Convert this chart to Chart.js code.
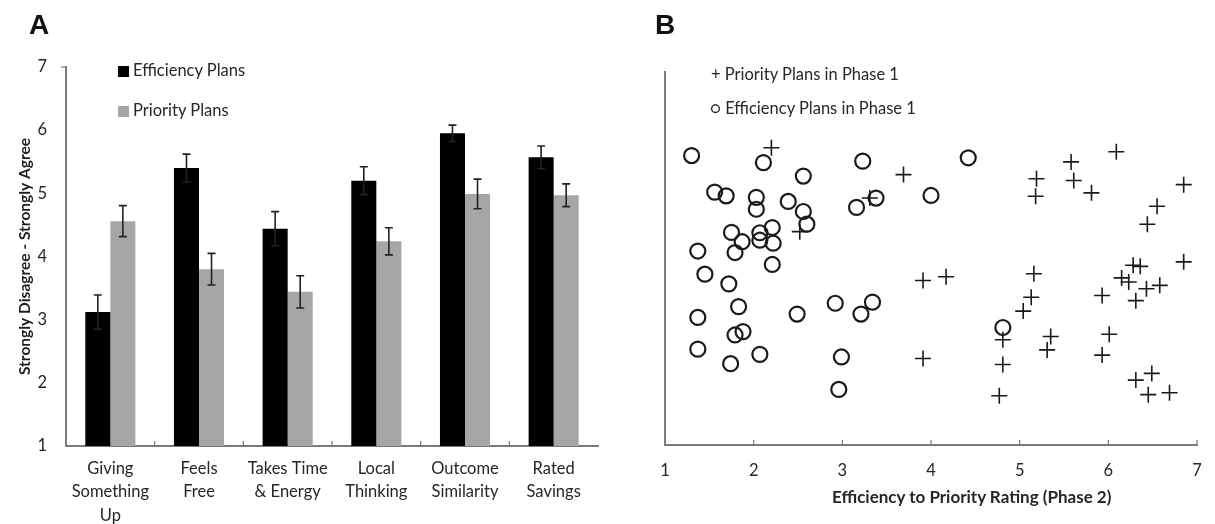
<!DOCTYPE html>
<html><head><meta charset="utf-8">
<script src="https://cdn.jsdelivr.net/npm/chart.js@4.4.1/dist/chart.umd.min.js"></script>
<style>
body{margin:0;background:#fff;width:1215px;height:524px;position:relative;overflow:hidden;font-family:Lato,"Open Sans",sans-serif;color:#262626}
canvas{position:absolute;top:0}
.t{position:absolute;white-space:nowrap}
</style></head><body>
<canvas id="ca" width="615" height="524" style="left:0"></canvas>
<canvas id="cb" width="600" height="524" style="left:615px"></canvas>
<div class="t" style="left:29px;top:9px;font:bold 28px 'Liberation Sans',Arial,sans-serif;color:#111">A</div>
<div class="t" style="left:655px;top:9px;font:bold 28px 'Liberation Sans',Arial,sans-serif;color:#111">B</div>
<div class="t" style="left:118px;top:60px;font-size:16.5px;line-height:20px"><span style="display:inline-block;width:11px;height:11px;background:#000;vertical-align:-1px;margin-right:4px"></span>Efficiency Plans</div>
<div class="t" style="left:118px;top:100px;font-size:16.5px;line-height:20px"><span style="display:inline-block;width:11px;height:11px;background:#a6a6a6;vertical-align:-1px;margin-right:4px"></span>Priority Plans</div>
<div class="t" style="left:711px;top:64px;font-size:16.5px;line-height:20px">+ Priority Plans in Phase 1</div>
<div class="t" style="left:710px;top:98px;font-size:16.5px;line-height:20px">○ Efficiency Plans in Phase 1</div>
<div class="t" style="left:832px;top:487px;font-weight:bold;font-size:17px;line-height:20px">Efficiency to Priority Rating (Phase 2)</div>
<script>
// ---- Panel A data ----
const categories = [["Giving","Something","Up"],["Feels","Free"],["Takes Time","& Energy"],["Local","Thinking"],["Outcome","Similarity"],["Rated","Savings"]];
const efficiencyMeans = [3.12, 5.40, 4.44, 5.20, 5.95, 5.57];
const efficiencyErr   = [0.27, 0.22, 0.27, 0.22, 0.13, 0.18];
const priorityMeans   = [4.56, 3.80, 3.44, 4.24, 4.99, 4.97];
const priorityErr     = [0.245, 0.25, 0.255, 0.215, 0.235, 0.18];
const yTicksA = [1, 2, 3, 4, 5, 6, 7];
// ---- Panel B data ----
const xTicksB = [1, 2, 3, 4, 5, 6, 7];
const priorityX = [2.20,3.69,3.31,2.52,3.91,3.91,6.09,5.58,5.19,5.61,5.81,6.85,5.18,6.55,6.44,4.17,5.16,5.13,5.04,6.85,6.28,6.36,6.15,6.23,6.43,6.58,6.31,5.93,4.81,4.81,4.77,5.35,5.31,6.01,5.93,6.31,6.49,6.45,6.69];
const priorityY = [7.97,7.25,6.62,5.72,4.41,2.32,7.86,7.59,7.14,7.09,6.76,6.98,6.67,6.40,5.92,4.51,4.59,3.96,3.59,4.91,4.82,4.79,4.48,4.37,4.19,4.28,3.87,4.01,2.82,2.16,1.32,2.91,2.55,2.97,2.41,1.74,1.92,1.35,1.40];
const efficiencyX = [1.30,2.11,2.56,3.23,1.56,1.69,2.03,2.03,2.39,2.56,2.60,3.16,3.38,4.00,1.75,2.07,2.21,2.07,1.87,2.22,1.79,1.37,2.21,1.45,1.72,2.92,3.34,3.21,2.49,1.83,1.37,1.88,1.79,1.37,2.07,1.74,2.99,2.96,4.42,4.81];
const efficiencyY = [7.76,7.57,7.21,7.61,6.78,6.68,6.64,6.32,6.53,6.26,5.92,6.37,6.62,6.69,5.70,5.69,5.83,5.49,5.45,5.41,5.16,5.20,4.84,4.58,4.32,3.80,3.83,3.51,3.51,3.71,3.42,3.04,2.95,2.57,2.43,2.18,2.36,1.49,7.70,3.15];

const FONT = 'Lato';
const AXIS = '#7a7a7a';
const TXT = '#262626';

const errorBars = {
  id: 'errorBars',
  afterDatasetsDraw(chart) {
    const ctx = chart.ctx, y = chart.scales.y;
    const errs = [efficiencyErr, priorityErr];
    ctx.save();
    ctx.strokeStyle = '#222'; ctx.lineWidth = 1.6;
    chart.data.datasets.forEach((ds, di) => {
      chart.getDatasetMeta(di).data.forEach((el, i) => {
        const v = ds.data[i], e = errs[di][i];
        const yt = y.getPixelForValue(v + e), yb = y.getPixelForValue(v - e);
        ctx.beginPath();
        ctx.moveTo(el.x, yt); ctx.lineTo(el.x, yb);
        ctx.moveTo(el.x - 4, yt); ctx.lineTo(el.x + 4, yt);
        ctx.moveTo(el.x - 4, yb); ctx.lineTo(el.x + 4, yb);
        ctx.stroke();
      });
    });
    ctx.restore();
  }
};
const innerTicksA = {
  id: 'innerTicksA',
  afterDraw(chart) {
    const ctx = chart.ctx, x = chart.scales.x, b = chart.chartArea.bottom;
    ctx.save(); ctx.strokeStyle = AXIS; ctx.lineWidth = 1.2;
    for (let i = 1; i < categories.length; i++) {
      const px = x.getPixelForValue(i - 0.5);
      ctx.beginPath(); ctx.moveTo(px, b); ctx.lineTo(px, b - 5); ctx.stroke();
    }
    const py = chart.scales.y.getPixelForValue(yTicksA[yTicksA.length - 1]);
    ctx.beginPath(); ctx.moveTo(chart.chartArea.left, py); ctx.lineTo(chart.chartArea.left - 5, py); ctx.stroke();
    ctx.restore();
  }
};
const innerTicksB = {
  id: 'innerTicksB',
  afterDraw(chart) {
    const ctx = chart.ctx, x = chart.scales.x, b = chart.chartArea.bottom;
    ctx.save(); ctx.strokeStyle = AXIS; ctx.lineWidth = 1.2;
    xTicksB.slice(1).forEach(v => {
      const px = x.getPixelForValue(v);
      ctx.beginPath(); ctx.moveTo(px, b); ctx.lineTo(px, b - 5); ctx.stroke();
    });
    ctx.restore();
  }
};

new Chart(document.getElementById('ca'), {
  type: 'bar',
  data: {
    labels: categories,
    datasets: [
      { label: 'Efficiency Plans', data: efficiencyMeans, backgroundColor: '#000', categoryPercentage: 0.565, barPercentage: 1.0 },
      { label: 'Priority Plans', data: priorityMeans, backgroundColor: '#a6a6a6', categoryPercentage: 0.565, barPercentage: 1.0 }
    ]
  },
  options: {
    responsive: false, animation: false, devicePixelRatio: 1,
    layout: { padding: { left: 0, right: 17, top: 67, bottom: 0 } },
    plugins: { legend: { display: false }, tooltip: { enabled: false } },
    scales: {
      x: {
        offset: true,
        grid: { display: false },
        border: { display: true, color: AXIS, width: 2 },
        ticks: { color: TXT, font: { family: FONT, size: 16.5, lineHeight: 1.42 }, padding: 3, maxRotation: 0, autoSkip: false },
        afterFit: s => { s.height = 78; }
      },
      y: {
        min: 1, max: 7,
        afterBuildTicks: s => { s.ticks = yTicksA.map(v => ({ value: v })); },
        grid: { display: false },
        border: { display: true, color: AXIS, width: 2 },
        ticks: { color: TXT, font: { family: FONT, size: 16.5 }, padding: 11 },
        title: { display: true, text: 'Strongly Disagree - Strongly Agree', color: '#1e1e1e', font: { family: FONT, size: 15.5, weight: 'bold' }, padding: { top: 16, bottom: 0 } },
        afterFit: s => { s.width = 66; }
      }
    }
  },
  plugins: [errorBars, innerTicksA]
});

new Chart(document.getElementById('cb'), {
  type: 'scatter',
  data: {
    datasets: [
      { label: 'Priority Plans in Phase 1', data: priorityX.map((x, i) => ({ x, y: priorityY[i] })), pointStyle: 'cross', pointRadius: 8, borderColor: '#1a1a1a', borderWidth: 1.6, backgroundColor: '#1a1a1a' },
      { label: 'Efficiency Plans in Phase 1', data: efficiencyX.map((x, i) => ({ x, y: efficiencyY[i] })), pointStyle: 'circle', pointRadius: 7.5, borderColor: '#1a1a1a', borderWidth: 2.2, backgroundColor: 'rgba(0,0,0,0)' }
    ]
  },
  options: {
    responsive: false, animation: false, devicePixelRatio: 1,
    layout: { padding: { left: 0, right: 18, top: 72, bottom: 0 } },
    plugins: { legend: { display: false }, tooltip: { enabled: false } },
    scales: {
      x: {
        type: 'linear', min: 1, max: 7,
        afterBuildTicks: s => { s.ticks = xTicksB.map(v => ({ value: v })); },
        grid: { display: false },
        border: { display: true, color: AXIS, width: 2 },
        ticks: { color: TXT, font: { family: FONT, size: 16.5 }, padding: 8 },
        afterFit: s => { s.height = 79; }
      },
      y: {
        type: 'linear', min: 0, max: 10,
        grid: { display: false },
        border: { display: true, color: AXIS, width: 2 },
        ticks: { display: false },
        afterFit: s => { s.width = 50; }
      }
    }
  },
  plugins: [innerTicksB]
});
</script>
</body></html>
